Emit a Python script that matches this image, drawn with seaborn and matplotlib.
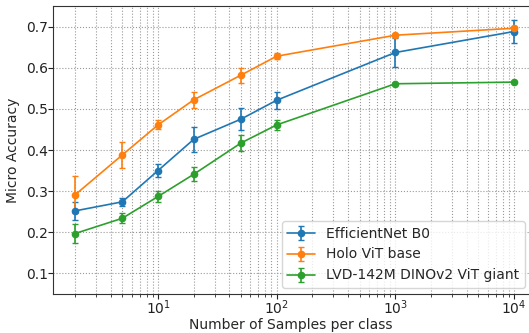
import matplotlib
matplotlib.use('Agg')
import matplotlib.pyplot as plt
import numpy as np
import seaborn as sns

# サンプル数
samples = [2, 5, 10, 20, 50, 100, 1000, 10000]

# 各モデルの精度と誤差
effnet_mean = [0.252, 0.274, 0.350, 0.426, 0.475, 0.521, 0.637, 0.688]
effnet_err = [0.021, 0.010, 0.016, 0.030, 0.026, 0.021, 0.035, 0.029]
holo_mean = [0.291, 0.388, 0.461, 0.522, 0.582, 0.628, 0.679, 0.696]
holo_err = [0.045, 0.031, 0.011, 0.019, 0.018, 0.008, 0.004, 0.005]
dino_mean = [0.197, 0.234, 0.287, 0.341, 0.417, 0.461, 0.561, 0.565]
dino_err = [0.023, 0.012, 0.013, 0.017, 0.019, 0.013, 0.003, 0.002]

labels = ['EfficientNet B0', 'Holo ViT base', 'LVD-142M DINOv2 ViT giant']

sns.set_style('ticks', rc={'axes.edgecolor': '#333333'})
plt.rcParams['font.family'] = ['DejaVu Sans']
colors = sns.color_palette('tab10')

fig = plt.figure(figsize=(5.29, 3.33), dpi=100)
ax = fig.add_axes([53 / 529, 39 / 333, (536 - 53) / 529, 288 / 333])

series = [(effnet_mean, effnet_err), (holo_mean, holo_err), (dino_mean, dino_err)]
for (m, e), lab, c in zip(series, labels, colors):
    ax.errorbar(samples, m, yerr=e, fmt='o-', color=c, label=lab,
                markersize=4.5, linewidth=1.2, elinewidth=1.2, capsize=2.5)

ax.set_xscale('log')
ax.set_xlim(10 ** 0.115, 10 ** 4.185)
ax.set_ylim(0.05, 0.75)
ax.set_yticks(np.arange(0.1, 0.75, 0.1))
ax.tick_params(which='major', length=3.5, pad=0, colors='#222222', labelsize=10)
ax.tick_params(which='minor', length=2, pad=0)
ax.grid(True, which='both', axis='x', linestyle=':', color='#999999', linewidth=0.8)
ax.grid(True, which='major', axis='y', linestyle=':', color='#999999', linewidth=0.8)

ax.set_xlabel('Number of Samples per class', fontsize=10)
ax.set_ylabel('Micro Accuracy', fontsize=10)
ax.xaxis.set_label_coords((291 - 53) / 483, -24 / 288)
ax.yaxis.set_label_coords((20 - 53) / 483, 0.5)

ax.legend(loc='lower right', bbox_to_anchor=(525 / 529, 45 / 333),
          bbox_transform=fig.transFigure, borderaxespad=0, fontsize=10)

plt.savefig('out.png', dpi=100)
